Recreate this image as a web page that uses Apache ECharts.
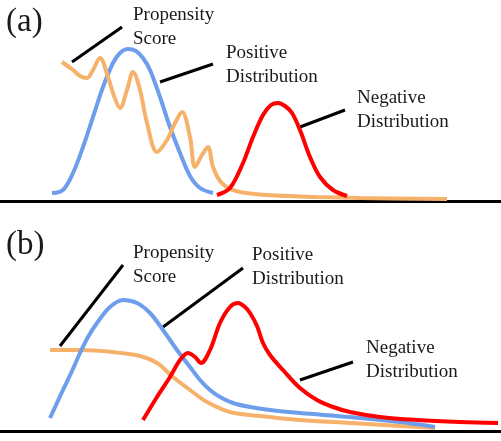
<!DOCTYPE html>
<html>
<head>
    <meta charset="utf-8">
    <title>Propensity score</title>
    <script src="https://cdn.jsdelivr.net/npm/echarts@6/dist/echarts.min.js"></script>
    <style>
        html, body { margin: 0; padding: 0; background: #fff; }
    </style>
</head>
<body>
<div id="main" style="width: 501px;height:441px;"></div>
<script type="text/javascript">
    // x: horizontal position, y: height above the baseline
    // panel (a)
    let aPositive = [[52,8],[63,11],[73,28],[83,54],[93,84],[103,114],[113,138],[120,148],[128,152],[136,150],[143,143],[150,131],[160,104],[170,74],[180,48],[190,25],[200,13],[213,8]];
    let aPropensity = [[62,139],[73,131],[80,125],[87,123],[93,131],[100,143],[108,124],[114,105],[120,93],[127,111],[133,129],[140,111],[147,78],[157,49],[167,61],[175,78],[182,89],[190,64],[195,34],[202,46],[208,54],[213,34],[220,20],[228,13],[240,9],[267,6],[317,4],[360,3],[447,2]];
    let aNegative = [[217,6],[230,13],[243,38],[253,64],[263,86],[271,96],[278,98],[285,95],[292,88],[300,71],[310,44],[320,24],[333,11],[347,5]];
    // panel (b)
    let bPositive = [[50,13],[63,41],[72,60],[80,78],[88,94],[97,108],[110,124],[123,131],[137,128],[150,118],[163,101],[177,81],[190,64],[200,51],[210,41],[220,34],[233,28],[250,24],[270,21],[300,18],[350,14],[400,9],[435,4]];
    let bPropensity = [[50,81],[80,81],[113,79],[140,75],[157,68],[173,54],[190,41],[207,29],[230,19],[260,15],[300,11],[350,8],[400,5],[435,3]];
    let bNegative = [[143,11],[157,34],[170,54],[180,71],[188,78],[195,74],[201,68],[210,81],[220,108],[230,124],[238,128],[245,124],[250,118],[257,105],[263,88],[270,76],[283,61],[300,43],[317,31],[333,24],[350,19],[380,14],[417,11],[460,9],[498,8]];

    let labels = ['Propensity\nScore', 'Positive\nDistribution', 'Negative\nDistribution'];

    let blue = '#6d9eeb', orange = '#f6b26b', red = '#ff0000';
    let serif = '"Liberation Serif", "DejaVu Serif", serif';

    let myChart = echarts.init(document.getElementById('main'));

    function axisX(idx) {
        return {
            type: 'value', gridIndex: idx, min: 0, max: 501,
            axisLine: { show: true, lineStyle: { color: '#000', width: 3 } },
            axisTick: { show: false }, axisLabel: { show: false }, splitLine: { show: false }
        };
    }
    function axisY(idx) {
        return {
            type: 'value', gridIndex: idx, min: 0, max: 160,
            axisLine: { show: false }, axisTick: { show: false },
            axisLabel: { show: false }, splitLine: { show: false }
        };
    }
    function curve(idx, data, color) {
        return {
            type: 'line', xAxisIndex: idx, yAxisIndex: idx, data: data,
            smooth: 0.35, showSymbol: false, silent: true,
            lineStyle: { color: color, width: 4 }
        };
    }
    function txt(x, y, s, size) {
        return {
            type: 'text', x: x, y: y,
            style: { text: s, font: size + 'px ' + serif, fill: '#1a1a1a', lineHeight: 24, verticalAlign: 'middle' }
        };
    }
    function seg(x1, y1, x2, y2) {
        return {
            type: 'line', shape: { x1: x1, y1: y1, x2: x2, y2: y2 },
            style: { stroke: '#000', lineWidth: 3 }
        };
    }

    myChart.setOption({
        animation: false,
        grid: [
            { left: 0, width: 501, top: 41, height: 160 },
            { left: 0, width: 501, top: 271, height: 160 }
        ],
        xAxis: [axisX(0), axisX(1)],
        yAxis: [axisY(0), axisY(1)],
        series: [
            curve(0, aPositive, blue),
            curve(0, aPropensity, orange),
            curve(0, aNegative, red),
            curve(1, bPropensity, orange),
            curve(1, bPositive, blue),
            curve(1, bNegative, red)
        ],
        graphic: [
            txt(6, 22, '(a)', 33),
            txt(133, 27, labels[0], 19),
            txt(226, 65, labels[1], 19),
            txt(357, 110, labels[2], 19),
            seg(72, 62, 122, 27),
            seg(160, 82, 213, 64),
            seg(300, 127, 345, 110),

            txt(6, 245, '(b)', 33),
            txt(133, 265, labels[0], 19),
            txt(252, 267, labels[1], 19),
            txt(366, 360, labels[2], 19),
            seg(60, 346, 123, 265),
            seg(163, 327, 243, 268),
            seg(300, 380, 353, 362)
        ]
    });
</script>
</body>
</html>
